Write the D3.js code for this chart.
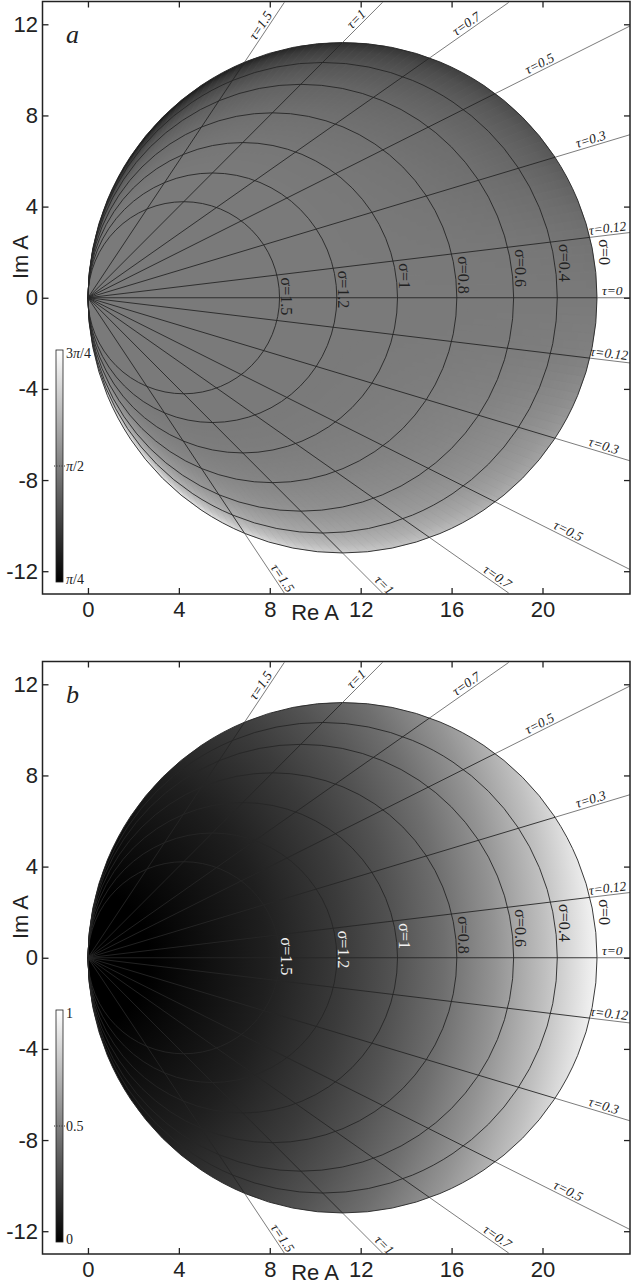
<!DOCTYPE html>
<html>
<head>
<meta charset="utf-8">
<script src="https://cdn.jsdelivr.net/npm/d3@7"></script>
<style>
body { margin: 0; background: #fff; }
svg { display: block; }
.tick text { font-family: "Liberation Sans", Arial, sans-serif; font-size: 22px; fill: #222; }
.axis-title { font-family: "Liberation Sans", Arial, sans-serif; font-size: 22px; fill: #222; }
.serif { font-family: "Liberation Serif", "Times New Roman", serif; fill: #222; }
</style>
</head>
<body>
<div class="container"></div>
<script>
// sigma circles (all pass through the origin) : level and diameter along Re A
var sigma_levels = [0, 0.4, 0.6, 0.8, 1, 1.2, 1.5];
var sigma_diameters = [22.4, 20.65, 18.73, 16.23, 13.62, 10.95, 8.43];
// tau rays : Im A = +/- tau * Re A
var tau_levels = [0, 0.12, 0.3, 0.5, 0.7, 1, 1.5];

var x_ticks = [0, 4, 8, 12, 16, 20];
var y_ticks = [-12, -8, -4, 0, 4, 8, 12];
var bar_ticks_a = ["π/4", "π/2", "3π/4"];
var bar_ticks_b = ["0", "0.5", "1"];

// where each tau label sits along its ray (Re A of label centre)
var tau_label_re_upper = [23.07, 22.9, 22.21, 20.01, 16.82, 12.02, 7.85];
var tau_label_re_lower = [null, 22.9, 22.61, 21.0, 17.84, 12.82, 8.31];

var width = 631, height = 1285;
var x = d3.scaleLinear().domain([-2, 23.85]).range([42.5, 630]);
var y = d3.scaleLinear().domain([-13, 13]).range([594, 1.5]);

var svg = d3.select(".container").append("svg")
    .attr("width", width)
    .attr("height", height);
var defs = svg.append("defs");

function drawPanel(letter, offset) {
    var g = svg.append("g").attr("transform", "translate(0," + offset + ")");
    var ox = x(0), oy = y(0);
    var D0 = sigma_diameters[0];
    var rx = x(D0 / 2) - x(0), ry = y(0) - y(D0 / 2);
    var cx = x(D0 / 2);

    // ---- shading of the disc
    if (letter == "a") {
        g.append("ellipse")
            .attr("cx", cx).attr("cy", oy).attr("rx", rx).attr("ry", ry)
            .attr("fill", "#7a7a7a");

        // strength of the edge shading across the sigma circles (focal point at the origin)
        var stopsEdge = [[0, 0], [0.5, 0.0], [0.62, 0.05], [0.72, 0.13], [0.84, 0.3],
                         [0.92, 0.52], [0.97, 0.76], [1, 1]];
        ["dark", "light"].forEach(function (kind) {
            var rg = defs.append("radialGradient")
                .attr("id", "edge-" + kind + "-" + letter)
                .attr("gradientUnits", "userSpaceOnUse")
                .attr("cx", cx).attr("cy", oy).attr("r", rx)
                .attr("fx", ox + 0.6).attr("fy", oy);
            rg.selectAll("stop").data(stopsEdge).enter().append("stop")
                .attr("offset", function (d) { return d[0]; })
                .attr("stop-color", kind == "dark" ? "#000" : "#fff")
                .attr("stop-opacity", function (d) { return d[1]; });
        });

        // strength of the edge shading along the rays (angle from the origin, degrees)
        var fade = d3.scaleLinear()
            .domain([0, 6.8, 16.7, 26.6, 35, 45, 56.3, 90])
            .range([0, 0.06, 0.27, 0.40, 0.52, 0.62, 0.72, 1]);
        var mask = defs.append("mask").attr("id", "mask-" + letter)
            .attr("maskUnits", "userSpaceOnUse")
            .attr("x", 0).attr("y", 0).attr("width", width).attr("height", 600);
        var L = 700;
        var wedges = d3.range(-90, 90, 1);
        mask.selectAll("path")
            .data(wedges)
            .enter()
            .append("path")
            .attr("d", function (a) {
                var a1 = a * Math.PI / 180, a2 = (a + 1) * Math.PI / 180;
                return "M" + ox + "," + oy +
                    " L" + (ox + L * Math.cos(a1)) + "," + (oy - L * Math.sin(a1)) +
                    " L" + (ox + L * Math.cos(a2)) + "," + (oy - L * Math.sin(a2)) + " Z";
            })
            .attr("fill", function (a) { var v = Math.round(255 * fade(Math.abs(a + 0.5))); return d3.rgb(v, v, v).toString(); })
            .attr("stroke", function (a) { var v = Math.round(255 * fade(Math.abs(a + 0.5))); return d3.rgb(v, v, v).toString(); })
            .attr("stroke-width", 0.6);

        var rpx = x(D0);
        g.append("path")
            .attr("d", "M" + ox + "," + oy + " A" + rx + "," + ry + " 0 0 1 " + rpx + "," + oy + " Z")
            .attr("fill", "url(#edge-dark-" + letter + ")")
            .attr("mask", "url(#mask-" + letter + ")");
        g.append("path")
            .attr("d", "M" + rpx + "," + oy + " A" + rx + "," + ry + " 0 0 1 " + ox + "," + oy + " Z")
            .attr("fill", "url(#edge-light-" + letter + ")")
            .attr("mask", "url(#mask-" + letter + ")");
    } else {
        var stopsMag = [[0, "#000"], [0.12, "#000"], [0.2, "#0b0b0b"], [0.35, "#1f1f1f"], [0.5, "#3b3b3b"],
                        [0.6, "#525252"], [0.7, "#6e6e6e"], [0.8, "#939393"], [0.9, "#c0c0c0"], [1, "#f4f4f4"]];
        var rb = defs.append("radialGradient")
            .attr("id", "mag-" + letter)
            .attr("gradientUnits", "userSpaceOnUse")
            .attr("cx", ox).attr("cy", oy).attr("r", x(D0) - x(0))
            .attr("gradientTransform", "translate(" + ox + "," + oy + ") scale(1,1.12) translate(" + (-ox) + "," + (-oy) + ")");
        rb.selectAll("stop").data(stopsMag).enter().append("stop")
            .attr("offset", function (d) { return d[0]; })
            .attr("stop-color", function (d) { return d[1]; });
        g.append("ellipse")
            .attr("cx", cx).attr("cy", oy).attr("rx", rx).attr("ry", ry)
            .attr("fill", "url(#mag-" + letter + ")");
    }

    // ---- sigma circles
    g.selectAll("ellipse.sigma")
        .data(sigma_diameters)
        .enter()
        .append("ellipse")
        .classed("sigma", true)
        .attr("cx", function (d) { return x(d / 2); })
        .attr("cy", oy)
        .attr("rx", function (d) { return x(d / 2) - x(0); })
        .attr("ry", function (d) { return y(0) - y(d / 2); })
        .attr("fill", "none")
        .attr("stroke", "#262626")
        .attr("stroke-width", 0.9);

    // ---- tau rays (both signs)
    var rays = [];
    tau_levels.forEach(function (t, i) {
        var signs = t == 0 ? [1] : [1, -1];
        signs.forEach(function (s) {
            var hit = D0 / (1 + t * t);            // where the ray leaves the sigma=0 circle
            var xe = t == 0 ? x.domain()[1] : Math.min(x.domain()[1], 12.96 / t);
            rays.push({tau: t, sign: s, idx: i, hit: hit, end: xe});
        });
    });
    g.selectAll("line.ray-in")
        .data(rays)
        .enter()
        .append("line")
        .classed("ray-in", true)
        .attr("x1", ox).attr("y1", oy)
        .attr("x2", function (d) { return x(d.hit); })
        .attr("y2", function (d) { return y(d.sign * d.tau * d.hit); })
        .attr("stroke", "#262626")
        .attr("stroke-width", 0.9);
    g.selectAll("line.ray-out")
        .data(rays)
        .enter()
        .append("line")
        .classed("ray-out", true)
        .attr("x1", function (d) { return x(d.hit); })
        .attr("y1", function (d) { return y(d.sign * d.tau * d.hit); })
        .attr("x2", function (d) { return x(d.end); })
        .attr("y2", function (d) { return y(d.sign * d.tau * d.end); })
        .attr("stroke", "#5a5a5a")
        .attr("stroke-width", 0.8);

    // ---- tau labels
    g.selectAll("text.tau")
        .data(rays)
        .enter()
        .append("text")
        .classed("tau serif", true)
        .attr("font-size", 13.5)
        .attr("text-anchor", "middle")
        .attr("transform", function (d) {
            var re = d.sign > 0 ? tau_label_re_upper[d.idx] : tau_label_re_lower[d.idx];
            var px = x(re), py = y(d.sign * d.tau * re);
            var ang = Math.atan2(py - oy, px - ox) * 180 / Math.PI;
            return "translate(" + px + "," + py + ") rotate(" + ang + ")";
        })
        .attr("dy", -2.5)
        .text(function (d) { return "τ=" + d.tau; })
        .style("font-style", "italic");

    // ---- sigma labels
    g.selectAll("text.sigma")
        .data(sigma_diameters)
        .enter()
        .append("text")
        .classed("sigma serif", true)
        .attr("font-size", 16)
        .attr("transform", function (d) {
            var px = x(d) + 1.5;
            var py = y(0.12 * x.invert(px)) + 3;
            return "translate(" + px + "," + py + ") rotate(90)";
        })
        .style("fill", function (d, i) { return (letter == "b" && sigma_levels[i] >= 1) ? "#f2f2f2" : "#222"; })
        .text(function (d, i) { return "σ=" + sigma_levels[i]; });

    // ---- frame and axes
    g.append("rect")
        .attr("x", x.range()[0]).attr("y", y.range()[1])
        .attr("width", x.range()[1] - x.range()[0])
        .attr("height", y.range()[0] - y.range()[1])
        .attr("fill", "none")
        .attr("stroke", "#222")
        .attr("stroke-width", 1.5);

    var noDomain = function (sel) { sel.select(".domain").remove(); sel.selectAll(".tick line").attr("stroke", "#222").attr("stroke-width", 1.3); };

    g.append("g")
        .attr("transform", "translate(0," + y.range()[0] + ")")
        .call(d3.axisBottom(x).tickValues(x_ticks).tickSize(-6).tickPadding(7.5).tickFormat(function (d) { return String(d); }))
        .call(noDomain);
    g.append("g")
        .attr("transform", "translate(0," + y.range()[1] + ")")
        .call(d3.axisTop(x).tickValues(x_ticks).tickSize(-6).tickFormat(""))
        .call(noDomain);
    g.append("g")
        .attr("transform", "translate(" + x.range()[0] + ",0)")
        .call(d3.axisLeft(y).tickValues(y_ticks).tickSize(-6).tickPadding(4.5).tickFormat(function (d) { return String(d); }))
        .call(noDomain);
    g.append("g")
        .attr("transform", "translate(" + x.range()[1] + ",0)")
        .call(d3.axisRight(y).tickValues(y_ticks).tickSize(-6).tickFormat(""))
        .call(noDomain);

    g.append("text")
        .classed("axis-title", true)
        .attr("x", 315).attr("y", 619.5)
        .attr("text-anchor", "middle")
        .text("Re A");
    g.append("text")
        .classed("axis-title", true)
        .attr("transform", "translate(27.5,257) rotate(-90)")
        .attr("text-anchor", "middle")
        .text("Im A");

    g.append("text")
        .classed("serif", true)
        .attr("x", 66).attr("y", 43)
        .attr("font-size", 26)
        .style("font-style", "italic")
        .text(letter);

    // ---- colour bar
    var barTop = 350, barBot = 582;
    var cb = defs.append("linearGradient")
        .attr("id", "bar-" + letter)
        .attr("x1", 0).attr("y1", 1).attr("x2", 0).attr("y2", 0);
    cb.append("stop").attr("offset", 0).attr("stop-color", "#000");
    cb.append("stop").attr("offset", 1).attr("stop-color", "#fff");
    g.append("rect")
        .attr("x", 56).attr("y", barTop).attr("width", 7).attr("height", barBot - barTop)
        .attr("fill", "url(#bar-" + letter + ")")
        .attr("stroke", "#222").attr("stroke-width", 0.8);

    var labels = letter == "a" ? bar_ticks_a : bar_ticks_b;
    var barScale = d3.scalePoint().domain(labels).range([barBot - 3, barTop + 3]);
    g.append("line")
        .attr("x1", 54).attr("x2", 65)
        .attr("y1", barScale(labels[1])).attr("y2", barScale(labels[1]))
        .attr("stroke", "#333").attr("stroke-width", 1).attr("stroke-dasharray", "1,1.5");
    var bt = g.selectAll("text.bar")
        .data(labels)
        .enter()
        .append("text")
        .classed("bar serif", true)
        .attr("x", 66)
        .attr("y", function (d) { return barScale(d); })
        .attr("dy", "0.35em")
        .attr("font-size", 14);
    bt.each(function (d) {
        var t = d3.select(this);
        d.split(/(π)/).forEach(function (part) {
            if (!part) return;
            t.append("tspan").style("font-style", part == "π" ? "italic" : "normal").text(part);
        });
    });
}

drawPanel("a", 0);
drawPanel("b", 660);
</script>
</body>
</html>
